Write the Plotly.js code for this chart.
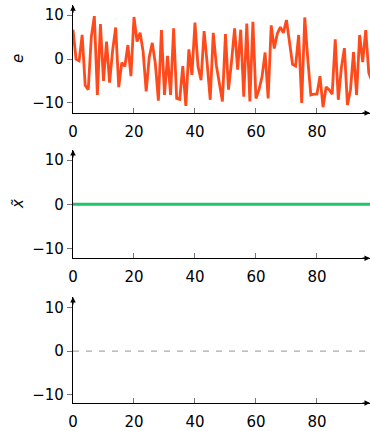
<!DOCTYPE html>
<html>
<head>
<meta charset="utf-8">
<script src="https://cdn.plot.ly/plotly-3.0.1.min.js"></script>
<style>html,body{margin:0;padding:0;background:#fff;}#chart{width:370px;height:431px;}</style>
</head>
<body>
<div id="chart"></div>
<script>
// Residual series e (index 0..98)
const eValues = [6.7, 0, -0.4, 5.5, -6, -7, 5, 9.8, -8.2, 8,
  -5, 4, -5.4, 2, 7.2, -6.4, -0.8, -1.7, 3.2, -3.9,
  9.6, 4, 6, 1.7, -7.4, 0.4, 3.7, -1, -9.5, 6.6,
  -8.2, 0.7, -8.2, 7, -9, -9.2, -1.6, -10.7, 2.2, -3.6,
  8.3, -1.7, -4.8, 6.4, -1, -9.3, 6, -1.4, -5.5, -9.7,
  5.7, -7, -0.5, 7, -2.4, 6.7, -8.6, 8.1, -9.7, 8.5,
  -9, -7, -4, 1.5, -9, 7.7, 2.4, 5.8, 7.3, 6,
  8.9, 4, -1.2, -1.6, 5.5, -10, 9.5, 0, -8.2, -8,
  -8, -3.9, -11, -6.4, -7, -8, 4.5, -9.3, -2, 2.5,
  -10.5, -7, 1.6, -8.2, 5.5, -0.7, 6.6, -3.2, -5];
// Filtered state x~ (all zero)
const xTildeValues = [0,0,0,0,0,0,0,0,0,0, 0,0,0,0,0,0,0,0,0,0,
  0,0,0,0,0,0,0,0,0,0, 0,0,0,0,0,0,0,0,0,0,
  0,0,0,0,0,0,0,0,0,0, 0,0,0,0,0,0,0,0,0,0,
  0,0,0,0,0,0,0,0,0,0, 0,0,0,0,0,0,0,0,0,0,
  0,0,0,0,0,0,0,0,0,0, 0,0,0,0,0,0,0,0,0];
// Reference line in bottom panel (all zero)
const refValues = [0,0,0,0,0,0,0,0,0,0, 0,0,0,0,0,0,0,0,0,0,
  0,0,0,0,0,0,0,0,0,0, 0,0,0,0,0,0,0,0,0,0,
  0,0,0,0,0,0,0,0,0,0, 0,0,0,0,0,0,0,0,0,0,
  0,0,0,0,0,0,0,0,0,0, 0,0,0,0,0,0,0,0,0,0,
  0,0,0,0,0,0,0,0,0,0, 0,0,0,0,0,0,0,0,0];
const xTickVals = [0, 20, 40, 60, 80];
const yTickVals = [-10, 0, 10];
const yLabels = ['e', 'x\u0303', ''];

const XMAX = 97.4;
const YR = [[-12.3, 12.3], [-12.2, 12.3], [-12.0, 12.5]];
const domains = [[0.738, 0.988], [0.401, 0.652], [0.065, 0.311]];
const font = {family: 'DejaVu Sans', size: 15, color: '#000'};

const traces = [
  {y: eValues, type: 'scatter', mode: 'lines', line: {color: '#ff4a1c', width: 2.8}, xaxis: 'x', yaxis: 'y'},
  {y: xTildeValues, type: 'scatter', mode: 'lines', line: {color: '#22c36a', width: 3}, xaxis: 'x2', yaxis: 'y2'},
  {y: refValues, type: 'scatter', mode: 'lines', line: {color: '#aaaaaa', width: 1.3, dash: '6px,7px'}, xaxis: 'x3', yaxis: 'y3'}
];

const layout = {
  width: 370, height: 431,
  margin: {l: 73, r: 0, t: 0, b: 0},
  paper_bgcolor: '#fff', plot_bgcolor: 'rgba(0,0,0,0)',
  showlegend: false, font: font,
  annotations: []
};
for (let i = 0; i < 3; i++) {
  const sx = i === 0 ? '' : String(i + 1);
  const xa = {
    domain: [0, 1], range: [0, XMAX], anchor: 'y' + sx,
    showgrid: false, zeroline: false, showline: true, linecolor: '#000', linewidth: 1.1,
    tickmode: 'array', tickvals: xTickVals, ticks: 'inside', ticklen: 5, tickcolor: '#777', tickwidth: 1,
    ticklabelstandoff: 5,
    tickfont: font, fixedrange: true
  };
  const ya = {
    domain: domains[i], range: YR[i], anchor: 'x' + sx,
    showgrid: false, zeroline: false, showline: true, linecolor: '#000', linewidth: 1.1,
    tickmode: 'array', tickvals: yTickVals, ticks: 'outside', ticklen: 5, tickcolor: '#777', tickwidth: 1,
    tickfont: font, fixedrange: true
  };
  layout['xaxis' + sx] = xa;
  layout['yaxis' + sx] = ya;
  // axis arrows
  layout.annotations.push({xref: 'x' + sx, yref: 'y' + sx, x: 0, y: YR[i][1], ax: 0, ay: 9,
    showarrow: true, arrowhead: 2, arrowsize: 1, arrowwidth: 1.1, arrowcolor: '#000', text: ''});
  layout.annotations.push({xref: 'x' + sx, yref: 'y' + sx, x: XMAX, y: YR[i][0], ax: -9, ay: 0,
    showarrow: true, arrowhead: 2, arrowsize: 1, arrowwidth: 1.1, arrowcolor: '#000', text: ''});
  if (yLabels[i]) {
    layout.annotations.push({xref: 'paper', yref: 'paper', x: (18 - 73) / 297, y: (domains[i][0] + domains[i][1]) / 2,
      xanchor: 'center', yanchor: 'middle', textangle: -90, showarrow: false,
      text: '<i>' + yLabels[i] + '</i>', font: {family: 'DejaVu Sans', size: 15, color: '#000'}});
  }
}
Plotly.newPlot('chart', traces, layout, {staticPlot: true, displayModeBar: false});
</script>
</body>
</html>
